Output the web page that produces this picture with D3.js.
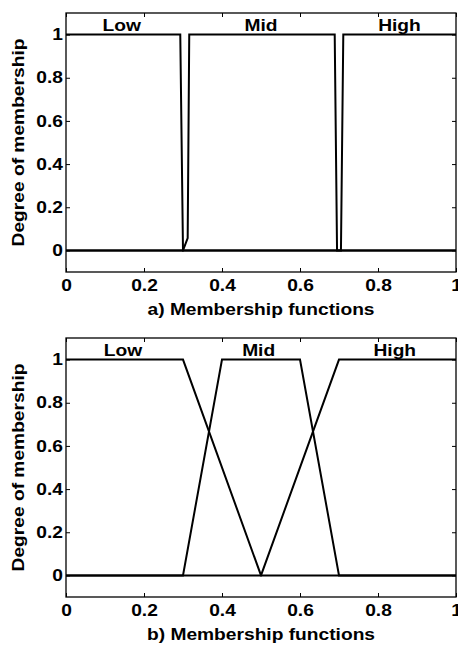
<!DOCTYPE html>
<html>
<head>
<meta charset="utf-8">
<script src="https://cdn.jsdelivr.net/npm/d3@7"></script>
<style>
  html, body { margin: 0; padding: 0; background: #fff; }
  svg { display: block; }
  text { font-family: "Liberation Sans", Arial, sans-serif; font-weight: bold; fill: #000; }
</style>
</head>
<body>
<svg id="chart" width="458" height="646"></svg>
<script>
// ---------- data ----------
const xTicks = [0, 0.2, 0.4, 0.6, 0.8, 1];
const yTicks = [0, 0.2, 0.4, 0.6, 0.8, 1];
const setNames = ["Low", "Mid", "High"];

// panel a) (near-crisp membership functions)
const lowA  = [[0, 1], [0.293, 1], [0.300, 0], [1, 0]];
const midA  = [[0, 0], [0.300, 0], [0.312, 0.057], [0.316, 1], [0.689, 1], [0.695, 0], [1, 0]];
const highA = [[0, 0], [0.705, 0], [0.711, 1], [1, 1]];
const labelXA = [0.143, 0.50, 0.855];
const titleA = "a) Membership functions";

// panel b) (trapezoidal membership functions)
const lowB  = [[0, 1], [0.3, 1], [0.5, 0], [1, 0]];
const midB  = [[0, 0], [0.3, 0], [0.4, 1], [0.6, 1], [0.7, 0], [1, 0]];
const highB = [[0, 0], [0.5, 0], [0.7, 1], [1, 1]];
const labelXB = [0.146, 0.494, 0.843];
const titleB = "b) Membership functions";

const yLabel = "Degree of membership";

// ---------- drawing ----------
const svg = d3.select("#chart");
const SX = 1.2; // horizontal stretch of glyphs

function panel(top, bottom, series, labelX, title) {
  const x = d3.scaleLinear().domain([0, 1]).range([66, 456]);
  const y = d3.scaleLinear().domain([-0.1, 1.1]).range([bottom, top]);
  const g = svg.append("g");

  // axes
  const fmt = d3.format("");
  const ax = (a) => a.tickSizeInner(-4).tickSizeOuter(0);
  const bottomAx = g.append("g").attr("transform", `translate(0,${bottom})`)
    .call(ax(d3.axisBottom(x).tickValues(xTicks).tickFormat(fmt)).tickPadding(8));
  const topAx = g.append("g").attr("transform", `translate(0,${top})`)
    .call(ax(d3.axisTop(x).tickValues(xTicks).tickFormat(() => "")));
  const leftAx = g.append("g").attr("transform", `translate(66,0)`)
    .call(ax(d3.axisLeft(y).tickValues(yTicks).tickFormat(fmt)).tickPadding(2.5));
  const rightAx = g.append("g").attr("transform", `translate(456,0)`)
    .call(ax(d3.axisRight(y).tickValues(yTicks).tickFormat(() => "")));

  [bottomAx, topAx, leftAx, rightAx].forEach(a => {
    a.select(".domain").remove();
    a.selectAll("line").attr("stroke", "#000").attr("stroke-width", 1);
    a.selectAll("text").attr("font-size", 16).attr("font-family", null)
      .attr("transform", `scale(${SX},1)`);
  });

  // frame
  g.append("rect")
    .attr("x", x(0)).attr("y", y(1.1))
    .attr("width", x(1) - x(0)).attr("height", y(-0.1) - y(1.1))
    .attr("fill", "none").attr("stroke", "#000").attr("stroke-width", 1.3);

  // lines
  const line = d3.line().x(d => x(d[0])).y(d => y(d[1]));
  series.forEach(s => {
    g.append("path").attr("d", line(s))
      .attr("fill", "none").attr("stroke", "#000")
      .attr("stroke-width", 2).attr("stroke-linejoin", "miter");
  });

  // set names
  setNames.forEach((n, i) => {
    g.append("text")
      .attr("transform", `translate(${x(labelX[i])},${y(1.018)}) scale(${SX},1)`)
      .attr("text-anchor", "middle").attr("font-size", 16).text(n);
  });

  // x title
  g.append("text")
    .attr("transform", `translate(${(x(0) + x(1)) / 2},${bottom + 43}) scale(${SX},1)`)
    .attr("text-anchor", "middle").attr("font-size", 16).text(title);

  // y title
  g.append("text")
    .attr("transform", `translate(24,${(top + bottom) / 2}) rotate(-90) scale(${SX},1)`)
    .attr("text-anchor", "middle").attr("font-size", 16).text(yLabel);
}

panel(13, 272, [lowA, midA, highA], labelXA, titleA);
panel(338, 597, [lowB, midB, highB], labelXB, titleB);
</script>
</body>
</html>
